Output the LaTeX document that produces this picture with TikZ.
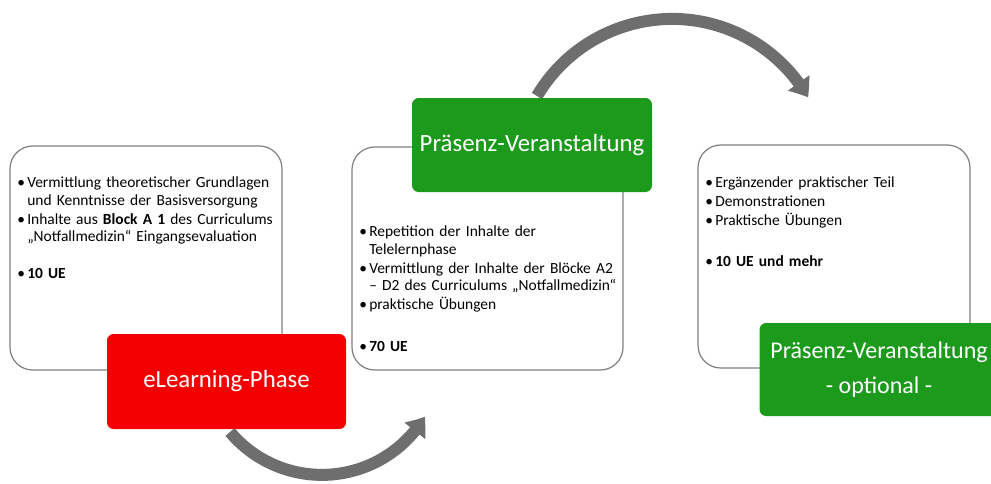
\documentclass[tikz,border=0pt]{standalone}
\usepackage{fontspec}
\setmainfont{Carlito}
\usetikzlibrary{arrows.meta,bending}
\definecolor{phasered}{HTML}{F50000}
\definecolor{phasegreen}{HTML}{1C9A1C}
\definecolor{arrowgray}{HTML}{6E6E6E}
\definecolor{boxgray}{HTML}{7F7F7F}
\newcommand{\bpoint}[1]{\par\hangindent=7.5pt\hangafter=1\noindent\makebox[7.5pt][l]{\textbullet}#1}

\begin{document}
\begin{tikzpicture}[x=0.75pt,y=-0.75pt,
    infobox/.style={draw=boxgray, line width=0.9pt, fill=white, rounded corners=17pt},
    phasebox/.style={rounded corners=5pt, text=white, align=center, font=\fontsize{18.6}{22.5}\selectfont},
    bodytext/.style={anchor=north west, inner sep=0pt, align=left, text width=255pt,
        font=\fontsize{11.6}{13.4}\selectfont, execute at begin node={\setlength{\parskip}{0.8pt}}},
    flow/.style={draw=arrowgray, line width=9pt, -{Triangle[width=19pt,length=13pt,bend]}}]
    \useasboundingbox[fill=white] (0,0) rectangle (991,483);
    \coordinate (lowstart) at (230,432);
    \coordinate (highstart) at (537,96);
    \draw[flow] (lowstart) arc[start angle=140, end angle=31, radius=120];
    \draw[flow] (highstart) arc[start angle=210.6, end angle=330, radius=157];
    \node (info1) [infobox, minimum width=204pt, minimum height=168pt] at (146,258) {};
    \node (info2) [infobox, minimum width=203.25pt, minimum height=167.25pt] at (487.5,258.5) {};
    \node (info3) [infobox, minimum width=204pt, minimum height=167.25pt] at (834,256.5) {};
    \node (text1) [bodytext] at (17,168) {%
        \bpoint{Vermittlung theoretischer Grundlagen\newline und Kenntnisse der Basisversorgung}
        \bpoint{Inhalte aus \textbf{Block A 1} des Curriculums\newline „Notfallmedizin“ Eingangsevaluation}
        \par\vspace{13.5pt}
        \bpoint{\textbf{10 UE}}};
    \node (text2) [bodytext] at (359,217) {%
        \bpoint{Repetition der Inhalte der\newline Telelernphase}
        \bpoint{Vermittlung der Inhalte der Blöcke A2\newline – D2 des Curriculums „Notfallmedizin“}
        \bpoint{praktische Übungen}
        \par\vspace{17pt}
        \bpoint{\textbf{70 UE}}};
    \node (text3) [bodytext] at (705,168) {%
        \bpoint{Ergänzender praktischer Teil}
        \bpoint{Demonstrationen}
        \bpoint{Praktische Übungen}
        \par\vspace{16.5pt}
        \bpoint{\textbf{10 UE und mehr}}};
    \node (elearn) [phasebox, fill=phasered, minimum width=179.25pt, minimum height=71.25pt] at (226.5,381.5) {eLearning-Phase};
    \node (praesenz) [phasebox, fill=phasegreen, minimum width=180pt, minimum height=70.5pt] at (532,145) {Präsenz-Veranstaltung};
    \node (optional) [phasebox, fill=phasegreen, font=\fontsize{18}{22}\selectfont, minimum width=179.25pt, minimum height=69.75pt] at (879,369.5) {Präsenz-Veranstaltung\\[4pt] - optional -};
\end{tikzpicture}
\end{document}
